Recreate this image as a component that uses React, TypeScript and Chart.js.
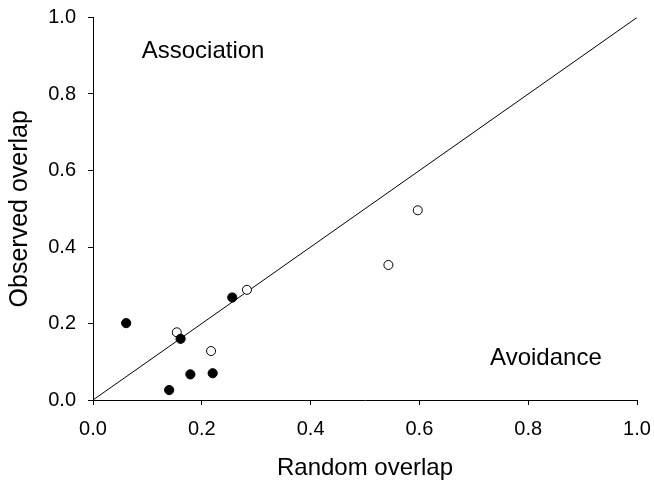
import React, { useEffect, useRef } from "react";
import { Chart, registerables } from "chart.js";

Chart.register(...registerables);

// Filled circles (series 1)
const filledX = [0.061, 0.161, 0.256, 0.179, 0.22, 0.14];
const filledY = [0.201, 0.16, 0.268, 0.067, 0.07, 0.026];
// Open circles (series 2)
const openX = [0.154, 0.283, 0.217, 0.597, 0.543];
const openY = [0.177, 0.288, 0.128, 0.496, 0.353];
// 1:1 reference line
const lineX = [0, 1];
const lineY = [0, 1];
// Axis ticks
const tickMin = 0;
const tickMax = 1;
const tickStep = 0.2;
// Annotations (text, data x of left edge, data y of baseline)
const annotationTexts = ["Association", "Avoidance"];
const annotationX = [0.0895, 0.73];
const annotationY = [0.8945, 0.0916];

const FONT = '"Liberation Sans", Arial, sans-serif';

const toPoints = (xs: number[], ys: number[]) => xs.map((x, i) => ({ x, y: ys[i] }));

const annotationPlugin = {
  id: "annotations",
  afterDatasetsDraw(chart: any) {
    const { ctx, scales } = chart;
    ctx.save();
    ctx.font = `24px ${FONT}`;
    ctx.fillStyle = "#000";
    ctx.textAlign = "left";
    ctx.textBaseline = "alphabetic";
    annotationTexts.forEach((t, i) => {
      ctx.fillText(t, scales.x.getPixelForValue(annotationX[i]), scales.y.getPixelForValue(annotationY[i]));
    });
    ctx.restore();
  },
};

const zeroPadding = (s: any) => {
  s.paddingTop = 0;
  s.paddingBottom = 0;
  s.paddingLeft = 0;
  s.paddingRight = 0;
};

export default function App() {
  const ref = useRef<HTMLCanvasElement | null>(null);
  useEffect(() => {
    if (!ref.current) return;
    const tickOpts = {
      stepSize: tickStep,
      padding: 12,
      color: "#000",
      font: { family: FONT, size: 20 },
      callback: (v: any) => Number(v).toFixed(1),
    };
    const gridOpts = {
      drawOnChartArea: false,
      drawTicks: true,
      tickLength: 5,
      color: "#000",
      lineWidth: 1,
    };
    const chart = new Chart(ref.current, {
      type: "scatter",
      data: {
        datasets: [
          {
            label: "filled",
            data: toPoints(filledX, filledY),
            backgroundColor: "#000",
            borderColor: "#000",
            borderWidth: 1,
            pointRadius: 4.6,
            order: 1,
          },
          {
            label: "open",
            data: toPoints(openX, openY),
            backgroundColor: "#fff",
            borderColor: "#000",
            borderWidth: 1,
            pointRadius: 4.5,
            order: 2,
          },
          {
            type: "line",
            label: "1:1",
            data: toPoints(lineX, lineY),
            borderColor: "#000",
            borderWidth: 1,
            pointRadius: 0,
            fill: false,
            order: 3,
          } as any,
        ],
      },
      options: {
        animation: false,
        responsive: false,
        devicePixelRatio: 1,
        layout: { padding: { top: 17.5, right: 17, left: 0, bottom: 0 } },
        plugins: { legend: { display: false }, tooltip: { enabled: false } },
        scales: {
          x: {
            type: "linear",
            min: tickMin,
            max: tickMax,
            ticks: tickOpts as any,
            grid: gridOpts as any,
            border: { display: true, color: "#000", width: 1 },
            title: {
              display: true,
              text: "Random overlap",
              color: "#000",
              font: { family: FONT, size: 24, lineHeight: 1 },
              padding: 0,
            },
            afterFit: (s: any) => {
              s.height = 80;
              zeroPadding(s);
            },
          },
          y: {
            type: "linear",
            min: tickMin,
            max: tickMax,
            ticks: tickOpts as any,
            grid: gridOpts as any,
            border: { display: true, color: "#000", width: 1 },
            title: {
              display: true,
              text: "Observed overlap",
              color: "#000",
              font: { family: FONT, size: 25, lineHeight: 1.2 },
              padding: { top: 5.5, bottom: 0 },
            },
            afterFit: (s: any) => {
              s.width = 93;
              zeroPadding(s);
            },
          },
        },
      },
      plugins: [annotationPlugin],
    });
    return () => chart.destroy();
  }, []);
  return (
    <div style={{ position: "fixed", left: 0, top: 0, width: 654, height: 480, background: "#fff" }}>
      <canvas ref={ref} width={654} height={480} style={{ display: "block" }} />
    </div>
  );
}
